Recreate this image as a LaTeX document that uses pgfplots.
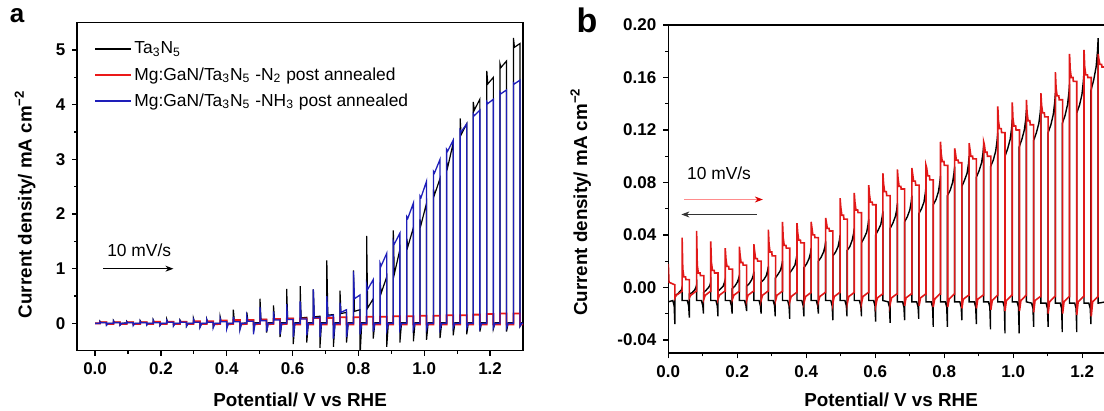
\documentclass[border=0pt]{standalone}
\usepackage{fontspec}
\setmainfont{Liberation Sans}
\setsansfont{Liberation Sans}
\usepackage{pgfplots}
\pgfplotsset{compat=1.18}
\usetikzlibrary{arrows.meta}

\definecolor{redA}{RGB}{235,25,25}
\definecolor{blueA}{RGB}{30,30,185}
\definecolor{redB}{RGB}{225,25,25}

\pgfplotsset{
  chop/.style={
    scale only axis,
    anchor=south west,
    axis line style={line width=0.8pt},
    tick align=outside,
    major tick length=2.5pt,
    minor tick length=1.5pt,
    every tick/.style={black,line width=0.6pt},
    xtick pos=bottom, ytick pos=left,
    tick label style={font=\fontsize{8.5}{10}\selectfont\bfseries},
    label style={font=\fontsize{9.4}{11}\selectfont\bfseries},
    clip=true,
  },
}

\begin{document}
\begin{tikzpicture}
\useasboundingbox (0,0) rectangle (552pt,205.5pt);

% ---------------- panel a ----------------
\begin{axis}[chop,
  at={(38.65pt,30.15pt)}, width=222.85pt, height=164pt,
  xmin=-0.054, xmax=1.30, ymin=-0.5, ymax=5.5,
  xtick={0,0.2,0.4,0.6,0.8,1.0,1.2},
  xticklabels={0.0,0.2,0.4,0.6,0.8,1.0,1.2},
  minor x tick num=1,
  ytick={0,1,2,3,4,5}, yticklabels={0,1,2,3,4,5},
  minor y tick num=1,
  xlabel={Potential/ V vs RHE},
  ylabel={Current density/ mA cm\textsuperscript{−2}},
  xlabel style={at={(axis description cs:0.5,-0.150)},anchor=center},
  ylabel style={at={(axis description cs:-0.117,0.447)},anchor=center},
  legend style={at={(axis description cs:0.037,0.955)},anchor=north west,
    draw=none,fill=none,inner sep=0pt,row sep=2.1pt,
    font=\fontsize{8.7}{10}\selectfont,
    nodes={inner sep=1pt,text height=7pt,text depth=2pt}},
  legend cell align=left,
  legend image code/.code={\draw[#1,line width=1.1pt] (0pt,0pt) -- (18pt,0pt);},
]
% Ta3N5
\addplot[black,line width=0.6pt] coordinates {
(0,0.00)(0.015,0.00)(0.015,0.04)(0.018,0.02)(0.035,0.02)(0.035,-0.03)(0.040,0.00)
(0.056,0.00)(0.056,0.05)(0.059,0.02)(0.076,0.02)(0.076,-0.03)(0.081,0.00)
(0.096,0.01)(0.096,0.04)(0.099,0.02)(0.116,0.02)(0.116,-0.02)(0.121,0.00)
(0.137,0.00)(0.137,0.05)(0.140,0.02)(0.157,0.02)(0.157,-0.03)(0.162,0.00)
(0.177,0.00)(0.177,0.06)(0.180,0.02)(0.197,0.02)(0.197,-0.04)(0.202,0.00)
(0.218,0.00)(0.218,0.07)(0.221,0.02)(0.238,0.03)(0.238,-0.04)(0.243,0.00)
(0.258,0.00)(0.258,0.06)(0.261,0.03)(0.278,0.03)(0.278,-0.05)(0.283,0.00)
(0.299,0.00)(0.299,0.09)(0.302,0.03)(0.319,0.03)(0.319,-0.06)(0.324,0.00)
(0.339,0.00)(0.339,0.08)(0.342,0.03)(0.359,0.03)(0.359,-0.06)(0.364,0.00)
(0.380,0.00)(0.380,0.12)(0.383,0.04)(0.400,0.04)(0.400,-0.07)(0.405,0.00)
(0.420,0.00)(0.420,0.25)(0.423,0.05)(0.440,0.05)(0.440,-0.10)(0.445,0.00)
(0.461,0.01)(0.461,0.20)(0.464,0.06)(0.481,0.06)(0.481,-0.15)(0.486,0.01)
(0.501,0.01)(0.501,0.45)(0.504,0.07)(0.521,0.07)(0.521,-0.17)(0.526,0.01)
(0.542,0.01)(0.542,0.33)(0.545,0.08)(0.562,0.08)(0.562,-0.25)(0.567,0.01)
(0.582,0.01)(0.582,0.63)(0.585,0.09)(0.602,0.09)(0.602,-0.38)(0.607,0.01)
(0.623,0.01)(0.623,0.68)(0.626,0.10)(0.643,0.11)(0.643,-0.35)(0.648,0.01)
(0.663,0.01)(0.663,0.62)(0.666,0.12)(0.683,0.13)(0.683,-0.45)(0.688,0.01)
(0.704,0.01)(0.704,1.15)(0.707,0.15)(0.724,0.16)(0.724,-0.43)(0.729,0.01)
(0.744,0.01)(0.744,0.60)(0.747,0.18)(0.764,0.20)(0.764,-0.35)(0.769,0.01)
(0.785,0.01)(0.785,0.97)(0.788,0.22)(0.805,0.25)(0.805,-0.60)(0.810,0.01)
(0.825,0.01)(0.825,1.60)(0.828,0.28)(0.845,0.45)(0.845,-0.28)(0.850,0.01)
(0.866,0.01)(0.866,0.75)(0.869,0.55)(0.886,0.85)(0.886,-0.43)(0.891,0.01)
(0.906,0.01)(0.906,1.70)(0.909,0.90)(0.926,1.35)(0.926,-0.35)(0.931,0.01)
(0.947,0.01)(0.947,1.55)(0.950,1.40)(0.967,1.75)(0.967,-0.33)(0.972,0.01)
(0.987,0.01)(0.987,1.90)(0.990,1.80)(1.007,2.20)(1.007,-0.30)(1.012,0.01)
(1.028,0.01)(1.028,2.45)(1.031,2.35)(1.048,2.65)(1.048,-0.27)(1.053,0.01)
(1.068,0.01)(1.068,2.95)(1.071,2.85)(1.088,3.30)(1.088,-0.22)(1.093,0.01)
(1.109,0.01)(1.109,3.75)(1.112,3.45)(1.129,3.65)(1.129,-0.20)(1.134,0.01)
(1.149,0.01)(1.149,4.05)(1.152,3.90)(1.169,4.10)(1.169,-0.15)(1.174,0.01)
(1.190,0.01)(1.190,4.62)(1.193,4.38)(1.210,4.50)(1.210,-0.10)(1.215,0.01)
(1.230,0.01)(1.230,4.75)(1.233,4.68)(1.250,4.80)(1.250,-0.15)(1.255,0.01)
(1.271,0.01)(1.271,5.22)(1.274,5.05)(1.291,5.12)(1.291,-0.05)(1.296,0.01)
(1.300,0.01)
};
\addlegendentry{Ta\textsubscript{3}N\textsubscript{5}}
% Mg:GaN/Ta3N5 N2
\addplot[redA,line width=0.9pt] coordinates {
(0,0.00)(0.015,0.00)(0.015,0.02)(0.035,0.02)(0.035,-0.01)
(0.056,-0.01)(0.056,0.02)(0.076,0.02)(0.076,-0.01)
(0.096,-0.01)(0.096,0.02)(0.116,0.02)(0.116,-0.01)
(0.137,-0.01)(0.137,0.02)(0.157,0.02)(0.157,-0.01)
(0.177,-0.01)(0.177,0.03)(0.197,0.03)(0.197,-0.01)
(0.218,-0.01)(0.218,0.03)(0.238,0.03)(0.238,-0.01)
(0.258,-0.01)(0.258,0.03)(0.278,0.03)(0.278,-0.01)
(0.299,-0.01)(0.299,0.04)(0.319,0.04)(0.319,-0.01)
(0.339,-0.01)(0.339,0.04)(0.359,0.04)(0.359,-0.02)
(0.380,-0.01)(0.380,0.05)(0.400,0.05)(0.400,-0.02)
(0.420,-0.01)(0.420,0.06)(0.440,0.06)(0.440,-0.02)
(0.461,-0.01)(0.461,0.06)(0.481,0.06)(0.481,-0.02)
(0.501,-0.01)(0.501,0.07)(0.521,0.07)(0.521,-0.02)
(0.542,-0.01)(0.542,0.08)(0.562,0.08)(0.562,-0.02)
(0.582,-0.01)(0.582,0.09)(0.602,0.09)(0.602,-0.02)
(0.623,-0.02)(0.623,0.09)(0.643,0.09)(0.643,-0.02)
(0.663,-0.02)(0.663,0.10)(0.683,0.10)(0.683,-0.02)
(0.704,-0.02)(0.704,0.10)(0.724,0.10)(0.724,-0.02)
(0.744,-0.02)(0.744,0.11)(0.764,0.11)(0.764,-0.02)
(0.785,-0.02)(0.785,0.11)(0.805,0.11)(0.805,-0.02)
(0.825,-0.02)(0.825,0.12)(0.845,0.12)(0.845,-0.02)
(0.866,-0.02)(0.866,0.12)(0.886,0.12)(0.886,-0.02)
(0.906,-0.02)(0.906,0.13)(0.926,0.13)(0.926,-0.02)
(0.947,-0.02)(0.947,0.13)(0.967,0.13)(0.967,-0.02)
(0.987,-0.02)(0.987,0.14)(1.007,0.14)(1.007,-0.02)
(1.028,-0.02)(1.028,0.14)(1.048,0.14)(1.048,-0.02)
(1.068,-0.02)(1.068,0.15)(1.088,0.15)(1.088,-0.02)
(1.109,-0.02)(1.109,0.15)(1.129,0.15)(1.129,-0.02)
(1.149,-0.02)(1.149,0.16)(1.169,0.16)(1.169,-0.02)
(1.190,-0.02)(1.190,0.17)(1.210,0.17)(1.210,-0.02)
(1.230,-0.02)(1.230,0.18)(1.250,0.18)(1.250,-0.02)
(1.271,-0.02)(1.271,0.18)(1.291,0.18)(1.291,-0.02)
(1.300,-0.02)
};
\addlegendentry{Mg:GaN/Ta\textsubscript{3}N\textsubscript{5} -N\textsubscript{2} post annealed}
% Mg:GaN/Ta3N5 NH3
\addplot[blueA,line width=0.65pt] coordinates {
(0,0.00)(0.015,0.00)(0.015,0.03)(0.018,0.01)(0.035,0.01)(0.035,-0.03)(0.040,0.00)
(0.056,0.00)(0.056,0.04)(0.059,0.01)(0.076,0.01)(0.076,-0.03)(0.081,0.00)
(0.096,0.00)(0.096,0.03)(0.099,0.01)(0.116,0.01)(0.116,-0.04)(0.121,0.00)
(0.137,0.00)(0.137,0.04)(0.140,0.01)(0.157,0.01)(0.157,-0.03)(0.162,0.00)
(0.177,0.00)(0.177,0.05)(0.180,0.01)(0.197,0.01)(0.197,-0.04)(0.202,0.00)
(0.218,0.00)(0.218,0.05)(0.221,0.02)(0.238,0.02)(0.238,-0.05)(0.243,0.00)
(0.258,0.00)(0.258,0.05)(0.261,0.02)(0.278,0.02)(0.278,-0.05)(0.283,0.00)
(0.299,0.00)(0.299,0.07)(0.302,0.02)(0.319,0.02)(0.319,-0.07)(0.324,0.00)
(0.339,0.00)(0.339,0.07)(0.342,0.02)(0.359,0.02)(0.359,-0.08)(0.364,0.00)
(0.380,0.00)(0.380,0.09)(0.383,0.03)(0.400,0.03)(0.400,-0.10)(0.405,0.00)
(0.420,0.00)(0.420,0.12)(0.423,0.03)(0.440,0.03)(0.440,-0.12)(0.445,0.00)
(0.461,0.00)(0.461,0.12)(0.464,0.04)(0.481,0.04)(0.481,-0.20)(0.486,0.00)
(0.501,0.00)(0.501,0.30)(0.504,0.05)(0.521,0.05)(0.521,-0.15)(0.526,0.00)
(0.542,0.00)(0.542,0.22)(0.545,0.06)(0.562,0.06)(0.562,-0.20)(0.567,0.00)
(0.582,0.00)(0.582,0.35)(0.585,0.07)(0.602,0.07)(0.602,-0.25)(0.607,0.00)
(0.623,0.00)(0.623,0.40)(0.626,0.08)(0.643,0.08)(0.643,-0.22)(0.648,0.00)
(0.663,0.00)(0.663,0.62)(0.666,0.10)(0.683,0.11)(0.683,-0.25)(0.688,0.00)
(0.704,0.00)(0.704,0.50)(0.707,0.13)(0.724,0.15)(0.724,-0.28)(0.729,0.00)
(0.744,0.00)(0.744,0.38)(0.747,0.20)(0.764,0.25)(0.764,-0.25)(0.769,0.00)
(0.785,0.00)(0.785,0.95)(0.788,0.45)(0.805,0.52)(0.805,-0.20)(0.810,0.00)
(0.825,0.00)(0.825,0.70)(0.828,0.62)(0.845,0.80)(0.845,-0.15)(0.850,0.00)
(0.866,0.00)(0.866,1.10)(0.869,1.05)(0.886,1.28)(0.886,-0.12)(0.891,0.00)
(0.906,0.00)(0.906,1.50)(0.909,1.45)(0.926,1.65)(0.926,-0.10)(0.931,0.00)
(0.947,0.00)(0.947,1.95)(0.950,1.92)(0.967,2.20)(0.967,-0.10)(0.972,0.00)
(0.987,0.00)(0.987,2.33)(0.990,2.30)(1.007,2.60)(1.007,-0.10)(1.012,0.00)
(1.028,0.00)(1.028,2.78)(1.031,2.75)(1.048,3.00)(1.048,-0.10)(1.053,0.00)
(1.068,0.00)(1.068,3.18)(1.071,3.15)(1.088,3.35)(1.088,-0.08)(1.093,0.00)
(1.109,0.00)(1.109,3.53)(1.112,3.50)(1.129,3.65)(1.129,-0.08)(1.134,0.00)
(1.149,0.00)(1.149,3.83)(1.152,3.80)(1.169,3.90)(1.169,-0.08)(1.174,0.00)
(1.190,0.00)(1.190,4.05)(1.193,4.02)(1.210,4.10)(1.210,-0.08)(1.215,0.00)
(1.230,0.00)(1.230,4.23)(1.233,4.20)(1.250,4.27)(1.250,-0.08)(1.255,0.00)
(1.271,0.00)(1.271,4.40)(1.274,4.38)(1.291,4.45)(1.291,-0.05)(1.296,0.00)
(1.300,0.00)
};
\addlegendentry{Mg:GaN/Ta\textsubscript{3}N\textsubscript{5} -NH\textsubscript{3} post annealed}
\draw[-{Stealth[length=4pt,width=3pt]},line width=0.5pt] (axis cs:0.025,1.0) -- (axis cs:0.238,1.0);
\node[font=\fontsize{8.7}{10}\selectfont] at (axis cs:0.134,1.33) {10 mV/s};
\end{axis}

% ---------------- panel b ----------------
\begin{axis}[chop,
  at={(334.15pt,28.85pt)}, width=218.85pt, height=164.15pt,
  xmin=0, xmax=1.2687, ymin=-0.0502, ymax=0.2,
  xtick={0,0.2,0.4,0.6,0.8,1.0,1.2},
  xticklabels={0.0,0.2,0.4,0.6,0.8,1.0,1.2},
  minor x tick num=1,
  ytick={-0.04,0,0.04,0.08,0.12,0.16,0.20},
  yticklabels={-0.04,0.00,0.04,0.08,0.12,0.16,0.20},
  minor y tick num=1,
  xlabel={Potential/ V vs RHE},
  ylabel={Current density/ mA cm\textsuperscript{−2}},
  xlabel style={at={(axis description cs:0.509,-0.143)},anchor=center},
  ylabel style={at={(axis description cs:-0.200,0.461)},anchor=center},
]
% reverse scan (black)
\addplot[black,line width=0.7pt] coordinates {
(0.000,-0.011)
(0.013,-0.010)(0.017,-0.014)(0.019,-0.028)(0.019,-0.006)(0.027,-0.005)(0.034,-0.003)(0.038,-0.002)(0.040,0.000)(0.040,-0.010)
(0.055,-0.010)(0.059,-0.014)(0.061,-0.023)(0.061,-0.005)(0.069,-0.004)(0.076,-0.002)(0.080,0.000)(0.082,0.002)(0.082,-0.010)
(0.096,-0.010)(0.100,-0.014)(0.102,-0.020)(0.102,-0.004)(0.110,-0.002)(0.117,0.000)(0.121,0.002)(0.123,0.004)(0.123,-0.010)
(0.138,-0.010)(0.142,-0.014)(0.144,-0.022)(0.144,-0.003)(0.152,-0.001)(0.159,0.001)(0.163,0.004)(0.165,0.006)(0.165,-0.010)
(0.179,-0.010)(0.183,-0.014)(0.185,-0.020)(0.185,-0.001)(0.193,0.001)(0.200,0.004)(0.204,0.007)(0.206,0.009)(0.206,-0.010)
(0.221,-0.010)(0.225,-0.014)(0.227,-0.018)(0.227,0.001)(0.235,0.003)(0.242,0.006)(0.246,0.009)(0.248,0.012)(0.248,-0.010)
(0.263,-0.010)(0.267,-0.014)(0.269,-0.020)(0.269,0.004)(0.277,0.006)(0.284,0.009)(0.288,0.013)(0.290,0.016)(0.290,-0.010)
(0.304,-0.010)(0.308,-0.014)(0.310,-0.022)(0.310,0.007)(0.318,0.010)(0.325,0.013)(0.329,0.017)(0.331,0.020)(0.331,-0.010)
(0.346,-0.010)(0.350,-0.014)(0.352,-0.024)(0.352,0.011)(0.360,0.014)(0.367,0.017)(0.371,0.022)(0.373,0.025)(0.373,-0.010)
(0.387,-0.010)(0.391,-0.014)(0.393,-0.022)(0.393,0.015)(0.401,0.018)(0.408,0.022)(0.412,0.026)(0.414,0.030)(0.414,-0.010)
(0.429,-0.010)(0.433,-0.014)(0.435,-0.020)(0.435,0.020)(0.443,0.023)(0.450,0.027)(0.454,0.031)(0.456,0.035)(0.456,-0.010)
(0.471,-0.010)(0.475,-0.014)(0.477,-0.025)(0.477,0.024)(0.485,0.027)(0.492,0.031)(0.496,0.036)(0.498,0.040)(0.498,-0.010)
(0.512,-0.010)(0.516,-0.014)(0.518,-0.022)(0.518,0.028)(0.526,0.031)(0.533,0.036)(0.537,0.041)(0.539,0.045)(0.539,-0.010)
(0.554,-0.010)(0.558,-0.014)(0.560,-0.022)(0.560,0.034)(0.568,0.038)(0.575,0.042)(0.579,0.048)(0.581,0.052)(0.581,-0.010)
(0.595,-0.010)(0.599,-0.014)(0.601,-0.026)(0.601,0.040)(0.609,0.044)(0.616,0.048)(0.620,0.054)(0.622,0.058)(0.622,-0.010)
(0.637,-0.011)(0.641,-0.015)(0.643,-0.027)(0.643,0.045)(0.651,0.049)(0.658,0.054)(0.662,0.059)(0.664,0.064)(0.664,-0.011)
(0.679,-0.011)(0.683,-0.015)(0.685,-0.025)(0.685,0.050)(0.693,0.054)(0.700,0.059)(0.704,0.065)(0.706,0.070)(0.706,-0.011)
(0.720,-0.011)(0.724,-0.015)(0.726,-0.024)(0.726,0.056)(0.734,0.060)(0.741,0.065)(0.745,0.072)(0.747,0.077)(0.747,-0.011)
(0.762,-0.011)(0.766,-0.015)(0.768,-0.030)(0.768,0.063)(0.776,0.067)(0.783,0.073)(0.787,0.080)(0.789,0.085)(0.789,-0.011)
(0.803,-0.011)(0.807,-0.015)(0.809,-0.030)(0.809,0.070)(0.817,0.074)(0.824,0.080)(0.828,0.087)(0.830,0.092)(0.830,-0.011)
(0.845,-0.011)(0.849,-0.015)(0.851,-0.025)(0.851,0.077)(0.859,0.082)(0.866,0.087)(0.870,0.094)(0.872,0.100)(0.872,-0.011)
(0.887,-0.011)(0.891,-0.015)(0.893,-0.028)(0.893,0.084)(0.901,0.089)(0.908,0.095)(0.912,0.102)(0.914,0.108)(0.914,-0.011)
(0.928,-0.011)(0.932,-0.015)(0.934,-0.032)(0.934,0.092)(0.942,0.097)(0.949,0.104)(0.953,0.112)(0.955,0.118)(0.955,-0.011)
(0.970,-0.011)(0.974,-0.015)(0.976,-0.035)(0.976,0.100)(0.984,0.106)(0.991,0.113)(0.995,0.121)(0.997,0.128)(0.997,-0.011)
(1.011,-0.011)(1.015,-0.015)(1.017,-0.035)(1.017,0.107)(1.025,0.113)(1.032,0.120)(1.036,0.128)(1.038,0.135)(1.038,-0.011)
(1.053,-0.012)(1.057,-0.016)(1.059,-0.030)(1.059,0.112)(1.067,0.118)(1.074,0.125)(1.078,0.133)(1.080,0.140)(1.080,-0.012)
(1.095,-0.012)(1.099,-0.016)(1.101,-0.030)(1.101,0.118)(1.109,0.124)(1.116,0.132)(1.120,0.141)(1.122,0.148)(1.122,-0.012)
(1.136,-0.012)(1.140,-0.016)(1.142,-0.034)(1.142,0.125)(1.150,0.131)(1.157,0.139)(1.161,0.148)(1.163,0.155)(1.163,-0.012)
(1.178,-0.012)(1.182,-0.016)(1.184,-0.034)(1.184,0.133)(1.192,0.139)(1.199,0.147)(1.203,0.157)(1.205,0.165)(1.205,-0.012)
(1.219,-0.012)(1.223,-0.016)(1.225,-0.028)(1.225,0.150)(1.233,0.158)(1.240,0.168)(1.244,0.180)(1.246,0.190)(1.246,-0.012)
(1.268,-0.011)
};
% forward scan (red)
\addplot[redB,line width=0.8pt] coordinates {
(0.000,0.018)(0.002,0.004)(0.010,0.003)(0.019,0.002)(0.019,-0.008)(0.023,-0.006)(0.040,-0.003)
(0.040,0.038)(0.042,0.014)(0.045,0.008)(0.050,0.008)(0.051,0.006)(0.061,0.006)(0.061,-0.008)(0.065,-0.006)(0.080,-0.003)
(0.082,-0.003)(0.082,0.043)(0.084,0.017)(0.087,0.011)(0.092,0.011)(0.093,0.009)(0.103,0.009)(0.103,-0.009)(0.107,-0.006)(0.122,-0.003)
(0.123,-0.003)(0.123,0.035)(0.125,0.019)(0.128,0.013)(0.133,0.013)(0.134,0.011)(0.144,0.011)(0.144,-0.009)(0.148,-0.006)(0.163,-0.003)
(0.165,-0.003)(0.165,0.030)(0.167,0.022)(0.170,0.016)(0.175,0.016)(0.176,0.014)(0.186,0.014)(0.186,-0.009)(0.190,-0.006)(0.205,-0.003)
(0.206,-0.003)(0.206,0.031)(0.208,0.025)(0.211,0.019)(0.216,0.019)(0.217,0.017)(0.227,0.017)(0.227,-0.010)(0.231,-0.006)(0.246,-0.003)
(0.248,-0.003)(0.248,0.033)(0.250,0.028)(0.253,0.022)(0.258,0.022)(0.259,0.020)(0.269,0.020)(0.269,-0.010)(0.273,-0.006)(0.288,-0.003)
(0.290,-0.003)(0.290,0.044)(0.292,0.033)(0.295,0.027)(0.300,0.027)(0.301,0.024)(0.311,0.024)(0.311,-0.010)(0.315,-0.006)(0.330,-0.003)
(0.331,-0.003)(0.331,0.050)(0.333,0.038)(0.336,0.032)(0.341,0.032)(0.342,0.030)(0.352,0.030)(0.352,-0.011)(0.356,-0.007)(0.371,-0.004)
(0.373,-0.004)(0.373,0.049)(0.375,0.042)(0.378,0.036)(0.383,0.036)(0.384,0.034)(0.394,0.034)(0.394,-0.011)(0.398,-0.007)(0.413,-0.004)
(0.414,-0.004)(0.414,0.050)(0.416,0.046)(0.419,0.040)(0.424,0.040)(0.425,0.038)(0.435,0.038)(0.435,-0.011)(0.439,-0.007)(0.454,-0.004)
(0.456,-0.004)(0.456,0.053)(0.458,0.050)(0.461,0.045)(0.466,0.045)(0.467,0.043)(0.477,0.043)(0.477,-0.012)(0.481,-0.007)(0.496,-0.004)
(0.498,-0.004)(0.498,0.068)(0.500,0.061)(0.503,0.055)(0.508,0.055)(0.509,0.052)(0.519,0.052)(0.519,-0.012)(0.523,-0.007)(0.538,-0.004)
(0.539,-0.004)(0.539,0.072)(0.541,0.065)(0.544,0.059)(0.549,0.059)(0.550,0.057)(0.560,0.057)(0.560,-0.012)(0.564,-0.007)(0.579,-0.004)
(0.581,-0.004)(0.581,0.078)(0.583,0.071)(0.586,0.065)(0.591,0.065)(0.592,0.063)(0.602,0.063)(0.602,-0.013)(0.606,-0.008)(0.621,-0.005)
(0.622,-0.005)(0.622,0.087)(0.624,0.079)(0.627,0.073)(0.632,0.073)(0.633,0.070)(0.643,0.070)(0.643,-0.013)(0.647,-0.008)(0.662,-0.005)
(0.664,-0.005)(0.664,0.090)(0.666,0.083)(0.669,0.077)(0.674,0.077)(0.675,0.075)(0.685,0.075)(0.685,-0.014)(0.689,-0.008)(0.704,-0.005)
(0.706,-0.005)(0.706,0.091)(0.708,0.087)(0.711,0.081)(0.716,0.081)(0.717,0.078)(0.727,0.078)(0.727,-0.014)(0.731,-0.008)(0.746,-0.005)
(0.747,-0.005)(0.747,0.093)(0.749,0.091)(0.752,0.085)(0.757,0.085)(0.758,0.082)(0.768,0.082)(0.768,-0.015)(0.772,-0.009)(0.787,-0.005)
(0.789,-0.005)(0.789,0.111)(0.791,0.102)(0.794,0.096)(0.799,0.096)(0.800,0.093)(0.810,0.093)(0.810,-0.015)(0.814,-0.009)(0.829,-0.005)
(0.830,-0.005)(0.830,0.106)(0.832,0.103)(0.835,0.097)(0.840,0.097)(0.841,0.095)(0.851,0.095)(0.851,-0.016)(0.855,-0.009)(0.870,-0.006)
(0.872,-0.006)(0.872,0.110)(0.874,0.106)(0.877,0.100)(0.882,0.100)(0.883,0.098)(0.893,0.098)(0.893,-0.016)(0.897,-0.009)(0.912,-0.006)
(0.914,-0.006)(0.914,0.111)(0.916,0.109)(0.919,0.103)(0.924,0.103)(0.925,0.100)(0.935,0.100)(0.935,-0.017)(0.939,-0.010)(0.954,-0.006)
(0.955,-0.006)(0.955,0.138)(0.957,0.127)(0.960,0.121)(0.965,0.121)(0.966,0.118)(0.976,0.118)(0.976,-0.018)(0.980,-0.010)(0.995,-0.006)
(0.997,-0.006)(0.997,0.141)(0.999,0.129)(1.002,0.123)(1.007,0.123)(1.008,0.120)(1.018,0.120)(1.018,-0.018)(1.022,-0.010)(1.037,-0.006)
(1.038,-0.006)(1.038,0.143)(1.040,0.133)(1.043,0.127)(1.048,0.127)(1.049,0.124)(1.059,0.124)(1.059,-0.019)(1.063,-0.010)(1.078,-0.007)
(1.080,-0.007)(1.080,0.148)(1.082,0.139)(1.085,0.133)(1.090,0.133)(1.091,0.130)(1.101,0.130)(1.101,-0.020)(1.105,-0.011)(1.120,-0.007)
(1.122,-0.007)(1.122,0.164)(1.124,0.152)(1.127,0.146)(1.132,0.146)(1.133,0.143)(1.143,0.143)(1.143,-0.020)(1.147,-0.011)(1.162,-0.007)
(1.163,-0.007)(1.163,0.178)(1.165,0.166)(1.168,0.160)(1.173,0.160)(1.174,0.157)(1.184,0.157)(1.184,-0.021)(1.188,-0.011)(1.203,-0.007)
(1.205,-0.007)(1.205,0.181)(1.207,0.168)(1.210,0.162)(1.215,0.162)(1.216,0.160)(1.226,0.160)(1.226,-0.022)(1.230,-0.011)(1.245,-0.007)
(1.246,-0.007)(1.246,0.178)(1.248,0.174)(1.251,0.170)(1.256,0.170)(1.257,0.168)(1.268,0.168)
};
\draw[line width=0.4pt,color=red!45,-{Stealth[length=4pt,width=3pt,color=red!85!black]}] (axis cs:0.046,0.067) -- (axis cs:0.274,0.067);
\draw[line width=0.4pt,color=black!80,-{Stealth[length=4pt,width=3pt]}] (axis cs:0.256,0.0556) -- (axis cs:0.038,0.0556);
\node[font=\fontsize{8.7}{10}\selectfont] at (axis cs:0.147,0.087) {10 mV/s};
\end{axis}

\node[font=\fontsize{13}{13}\selectfont\bfseries] at (8.5pt,197.5pt) {a};
\node[font=\fontsize{17}{17}\selectfont\bfseries] at (293.5pt,195.5pt) {b};
\end{tikzpicture}
\end{document}
